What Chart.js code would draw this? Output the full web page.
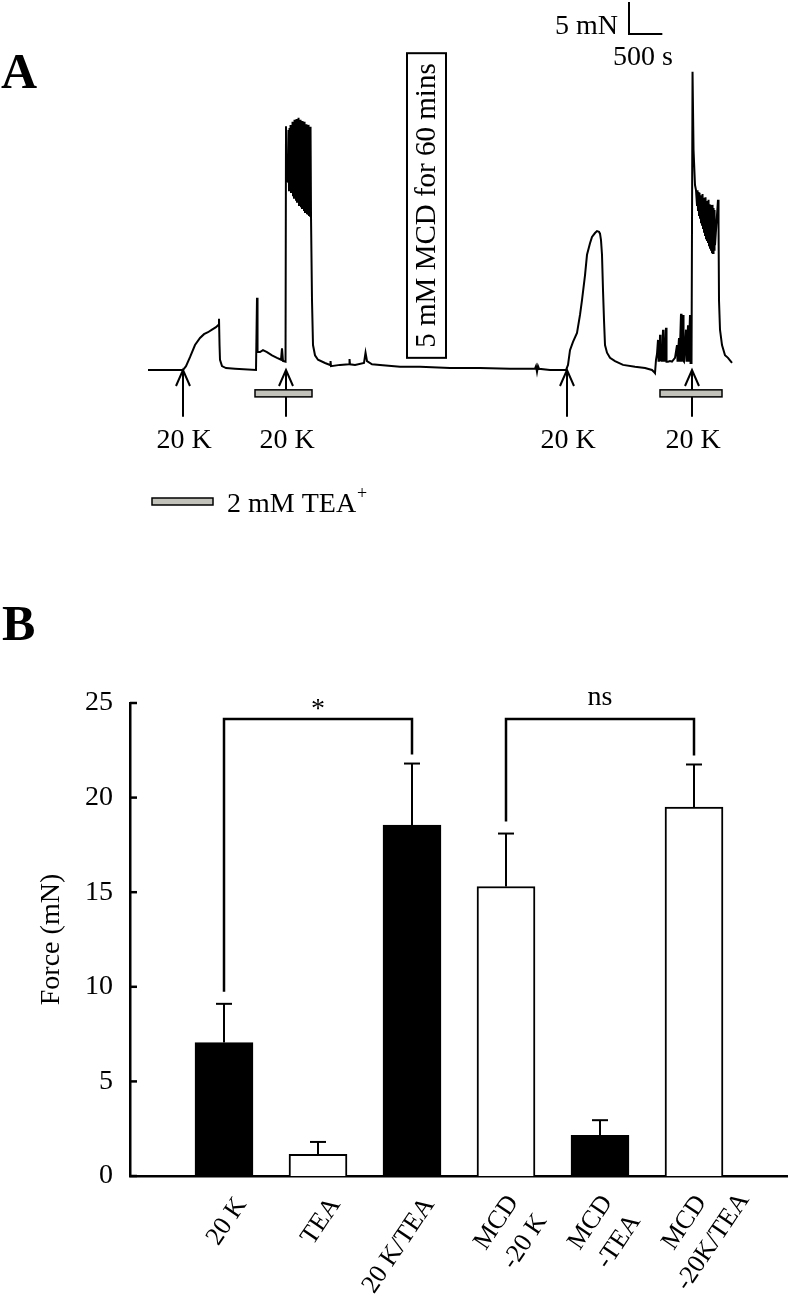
<!DOCTYPE html>
<html><head><meta charset="utf-8">
<script src="https://cdn.jsdelivr.net/npm/chart.js@4.4.1/dist/chart.umd.min.js"></script>
<style>
html,body{margin:0;padding:0;background:#fff;}
#wrap{position:relative;width:788px;height:1300px;overflow:hidden;background:#fff;}
canvas{position:absolute;left:0;display:block;}
#cA{top:0;width:788px;height:560px;}
#cB{top:560px;width:788px;height:740px;}
</style></head><body>
<div id="wrap">
<canvas id="cA" width="788" height="560"></canvas>
<canvas id="cB" width="788" height="740"></canvas>
</div>
<script>
// ---------------- Panel A data: force trace (time in s, force in mN) ----------------
const tracePoints = [
 [0,0],[525,0],[570,0.6],[630,2.0],[705,3.9],[780,5.0],[840,5.6],[900,5.9],[960,6.3],[1020,6.7],[1050,7.0],[1065,8.0],[1073,3.9],[1080,1.6],[1110,0.6],[1170,0.3],[1305,0.2],[1620,0],[1635,11.3],[1643,2.8],[1680,2.8],[1725,3.1],[1785,2.8],[1860,2.3],[1935,1.9],[1995,1.6],[2010,3.4],[2025,1.4],[2063,1.3],[2070,38.1],[2085,29.7],
 [2100,29.4],[2108,37.5],[2115,28.1],[2123,37.8],[2130,28.9],[2138,38.3],[2145,27.8],[2153,37.5],[2160,28.1],[2168,38.8],[2175,27.3],[2183,38.1],[2190,26.9],[2198,39.1],[2205,27.2],[2213,38.4],[2220,26.6],[2228,39.2],[2235,26.3],[2243,38.6],[2250,26.6],[2258,39.4],[2265,25.8],[2273,38.8],[2280,26.1],[2288,39.1],[2295,25.6],[2303,38.4],[2310,25.3],[2318,38.9],[2325,25.8],[2333,38.1],[2340,25.0],[2348,38.8],[2355,24.7],[2363,38.1],[2370,25.0],[2378,38.4],[2385,24.5],[2393,38.0],[2400,24.4],[2408,38.3],[2415,24.2],[2423,37.8],[2430,24.1],[2438,38.0],
 [2445,24.1],[2460,10.9],[2475,3.9],[2505,2.3],[2550,1.6],[2655,1.1],[2730,0.8],[2738,1.4],[2745,0.6],[2880,0.8],[3015,0.9],[3023,1.7],[3030,0.9],[3105,0.8],[3240,1.1],[3263,2.7],[3285,1.4],[3360,0.9],[3480,0.8],[3780,0.5],[4080,0.5],[4530,0.3],[4980,0.3],[5430,0.2],[5805,0.2],[5820,0.6],[5835,-0.3],[5850,0.6],[5865,0.2],[6030,0],[6270,0],
 [6300,0.8],[6330,3.1],[6375,4.4],[6435,5.8],[6480,8.6],[6510,10.9],[6555,14.8],[6585,18.0],[6630,19.8],[6660,20.8],[6705,21.4],[6735,21.7],[6765,21.6],[6780,21.3],[6795,20.3],[6810,18.0],[6825,12.5],[6840,7.8],[6855,3.9],[6885,2.7],[6930,1.9],[7005,1.4],[7125,0.8],[7305,0.5],[7455,0.3],[7560,0],[7590,-0.3],
 [7605,-0.5],[7620,1.6],[7635,2.5],[7650,4.7],[7658,1.3],[7665,3.9],[7673,1.3],[7680,5.5],[7688,1.4],[7695,2.3],[7710,1.3],[7725,6.3],[7733,1.3],[7740,4.7],[7748,1.3],[7770,6.6],[7778,1.3],[7800,1.3],[7830,1.4],[7860,1.3],[7905,1.9],[7935,3.9],[7943,1.3],[7965,5.0],[7973,1.3],[7995,8.8],[8003,1.3],[8025,8.6],[8033,1.4],[8040,1.3],[8070,6.3],[8078,1.3],[8100,7.0],[8108,1.3],[8130,8.6],[8138,1.1],[8153,1.1],
 [8168,46.6],[8183,34.4],[8205,28.9],[8220,28.1],[8235,25.8],[8243,28.1],[8250,25.0],[8258,27.8],[8265,24.2],[8273,27.7],[8280,23.8],[8288,27.3],[8295,23.1],[8303,27.2],[8310,22.7],[8318,27.5],[8325,22.2],[8333,26.9],[8340,21.6],[8348,26.6],[8355,21.1],[8363,27.0],[8370,20.6],[8378,26.4],[8385,20.3],[8393,26.1],[8400,20.0],[8408,26.6],[8415,19.5],[8423,25.9],[8430,19.1],[8438,25.8],[8445,18.8],[8453,25.6],[8460,18.4],[8468,25.8],[8475,18.3],[8483,25.3],[8490,18.8],[8498,25.0],[8505,19.5],[8520,21.9],[8535,24.2],[8550,26.6],[8558,22.7],[8565,10.9],[8580,6.3],[8610,3.9],[8655,2.3],[8700,1.9],[8760,1.1]
];
const kAdditionTimes = [525, 2070, 6285, 8160];      // s, "20 K" additions
const kAdditionLabel = '20 K';
const teaPeriods = [[1605, 2460], [7680, 8610]];     // s, 2 mM TEA+ application
const mcdNote = '5 mM MCD for 60 mins';
const teaLegend = '2 mM TEA';
const scaleBarForce = 5;    // mN
const scaleBarTime = 500;   // s

// ---------------- Panel B data ----------------
const categories = ['20 K', 'TEA', '20 K/TEA', ['MCD', '-20 K'], ['MCD', '-TEA'], ['MCD', '-20K/TEA']];
const forceMean = [7.05, 1.15, 18.55, 15.3, 2.15, 19.5];
const forceSEM  = [2.05, 0.65, 3.25, 2.8, 0.8, 2.25];
const barFills  = ['#000000', '#ffffff', '#000000', '#ffffff', '#000000', '#ffffff'];
const yTicks = [0, 5, 10, 15, 20, 25];
const comparisons = [{a: 0, b: 2, label: '*'}, {a: 3, b: 5, label: 'ns'}];
const bracketLevel = 24.15; // mN

const FONT = '"Liberation Serif", "Times New Roman", Times, serif';

// ================= Panel A =================
const panelAPlugin = {
  id: 'panelA',
  afterDatasetsDraw(chart) {
    const {ctx, scales: {x, y}} = chart;
    const X = v => x.getPixelForValue(v), Y = v => y.getPixelForValue(v);
    ctx.save();
    ctx.strokeStyle = '#000'; ctx.fillStyle = '#000';
    // arrows + labels
    ctx.lineWidth = 2;
    kAdditionTimes.forEach(t => {
      const px = X(t), tip = Y(0), bot = Y(-7.3);
      ctx.beginPath(); ctx.moveTo(px, bot); ctx.lineTo(px, tip); ctx.stroke();
      ctx.beginPath(); ctx.moveTo(px - 7, tip + 16); ctx.lineTo(px, tip); ctx.lineTo(px + 7, tip + 16); ctx.stroke();
      ctx.font = '28px ' + FONT; ctx.textAlign = 'center'; ctx.textBaseline = 'alphabetic';
      ctx.fillText(kAdditionLabel, px + 1, Y(-12.2));
    });
    // TEA bars
    ctx.lineWidth = 1.5;
    teaPeriods.forEach(([a, b]) => {
      const x0 = X(a), x1 = X(b), y0 = Y(-3.1), y1 = Y(-4.2);
      ctx.fillStyle = '#c2c2ba'; ctx.fillRect(x0, y0, x1 - x0, y1 - y0);
      ctx.strokeRect(x0, y0, x1 - x0, y1 - y0);
    });
    // MCD box
    ctx.lineWidth = 2;
    const bx0 = X(3885), bx1 = X(4470), by0 = Y(49.5), by1 = Y(1.9);
    ctx.strokeRect(bx0, by0, bx1 - bx0, by1 - by0);
    ctx.save();
    ctx.translate((bx0 + bx1) / 2, (by0 + by1) / 2);
    ctx.rotate(-Math.PI / 2);
    ctx.fillStyle = '#000'; ctx.font = '29px ' + FONT; ctx.textAlign = 'center'; ctx.textBaseline = 'middle';
    ctx.fillText(mcdNote, 0, 1);
    ctx.restore();
    // scale bar
    const sx = X(7215), sy = Y(52.5);
    ctx.lineWidth = 2;
    ctx.beginPath(); ctx.moveTo(sx, Y(52.5 + scaleBarForce)); ctx.lineTo(sx, sy); ctx.lineTo(X(7215 + scaleBarTime), sy); ctx.stroke();
    ctx.fillStyle = '#000'; ctx.font = '28px ' + FONT; ctx.textBaseline = 'alphabetic';
    ctx.textAlign = 'right'; ctx.fillText(scaleBarForce + ' mN', sx - 11, sy);
    ctx.textAlign = 'left'; ctx.fillText(scaleBarTime + ' s', sx - 16, sy + 31);
    // legend
    ctx.lineWidth = 1.5;
    ctx.fillStyle = '#c2c2ba'; ctx.fillRect(152, 498, 61, 7); ctx.strokeRect(152, 498, 61, 7);
    ctx.fillStyle = '#000'; ctx.font = '28px ' + FONT; ctx.textAlign = 'left';
    ctx.fillText(teaLegend, 227, 512);
    const w = ctx.measureText(teaLegend).width;
    ctx.font = '18px ' + FONT; ctx.fillText('+', 227 + w + 1, 499);
    // panel letter
    ctx.font = 'bold 50px ' + FONT; ctx.fillText('A', 1, 88);
    ctx.restore();
  }
};

new Chart(document.getElementById('cA'), {
  type: 'line',
  data: {
    datasets: [{
      data: tracePoints.map(([t, f]) => ({x: t, y: f})),
      borderColor: '#000', borderWidth: 2, pointRadius: 0, tension: 0, fill: false
    }]
  },
  options: {
    responsive: false, animation: false, events: [],
    layout: {padding: 0},
    plugins: {legend: {display: false}, tooltip: {enabled: false}},
    scales: {
      x: {type: 'linear', display: false, min: -2220, max: 9600},
      y: {type: 'linear', display: false, min: -29.6875, max: 57.8125}
    }
  },
  plugins: [panelAPlugin]
});

// ================= Panel B =================
const xLabelAngle = 56;
const panelBPlugin = {
  id: 'panelB',
  afterDatasetsDraw(chart) {
    const {ctx, scales: {x, y}, chartArea} = chart;
    const meta = chart.getDatasetMeta(0);
    const line = (a, b, c, d) => { ctx.beginPath(); ctx.moveTo(a, b); ctx.lineTo(c, d); ctx.stroke(); };
    ctx.save();
    ctx.strokeStyle = '#000'; ctx.fillStyle = '#000';
    // inward y ticks
    ctx.lineWidth = 2.5;
    yTicks.forEach(v => { const py = y.getPixelForValue(v); line(chartArea.left, py, chartArea.left + 7, py); });
    // error bars (upper)
    ctx.lineWidth = 2;
    const errTopPx = [];
    forceMean.forEach((m, i) => {
      const px = meta.data[i + 1].x;
      const top = y.getPixelForValue(m + forceSEM[i]);
      const base = y.getPixelForValue(m);
      line(px, base, px, top);
      line(px - 8, top, px + 8, top);
      errTopPx[i] = top;
    });
    // significance brackets
    ctx.lineWidth = 2.5;
    comparisons.forEach(c => {
      const xa = meta.data[c.a + 1].x, xb = meta.data[c.b + 1].x;
      const by = y.getPixelForValue(bracketLevel);
      ctx.beginPath();
      ctx.moveTo(xa, errTopPx[c.a] - 12); ctx.lineTo(xa, by); ctx.lineTo(xb, by); ctx.lineTo(xb, errTopPx[c.b] - 9);
      ctx.stroke();
      ctx.font = '28px ' + FONT; ctx.textAlign = 'center'; ctx.textBaseline = 'alphabetic';
      ctx.fillText(c.label, (xa + xb) / 2, by - (c.label === '*' ? 2 : 14));
    });
    // x category labels (rotated)
    const th = xLabelAngle * Math.PI / 180;
    ctx.font = '26px ' + FONT;
    const axisY = chartArea.bottom;
    chart.data.labels.forEach((lab, i) => {
      if (!lab) return;
      const px = x.getPixelForValue(i);
      const lines = Array.isArray(lab) ? lab : [lab];
      ctx.save();
      if (lines.length === 1) {
        ctx.translate(px + 8, axisY + 18);
        ctx.rotate(-th);
        ctx.textAlign = 'right';
        ctx.fillText(lines[0], 0, 18);
      } else {
        ctx.translate(px + 3, axisY + 55);
        ctx.rotate(-th);
        ctx.textAlign = 'center';
        lines.forEach((ln, k) => ctx.fillText(ln, 0, (k - (lines.length - 1) / 2) * 34 + 9));
      }
      ctx.restore();
    });
    // panel letter
    ctx.font = 'bold 50px ' + FONT; ctx.textAlign = 'left';
    ctx.fillText('B', 2, 80);
    ctx.restore();
  }
};

new Chart(document.getElementById('cB'), {
  type: 'bar',
  data: {
    labels: [''].concat(categories, ['']),
    datasets: [{
      data: [null].concat(forceMean, [null]),
      backgroundColor: ['#ffffff'].concat(barFills, ['#ffffff']),
      borderColor: '#000', borderWidth: 2, barThickness: 58
    }]
  },
  options: {
    responsive: false, animation: false, events: [],
    layout: {padding: {top: 143, left: 0, right: 0, bottom: 0}},
    plugins: {legend: {display: false}, tooltip: {enabled: false}},
    scales: {
      x: {
        type: 'category', offset: false,
        grid: {display: false},
        border: {display: true, color: '#000', width: 2.5},
        ticks: {display: false},
        afterFit(s) { s.height = 124; }
      },
      y: {
        min: 0, max: 25,
        grid: {display: false},
        border: {display: true, color: '#000', width: 2.5},
        ticks: {stepSize: 5, color: '#000', padding: 9, font: {family: FONT, size: 28}},
        title: {display: true, text: 'Force (mN)', color: '#000', font: {family: FONT, size: 28}, padding: {top: 35, bottom: 0}},
        afterFit(s) { s.width = 130; }
      }
    }
  },
  plugins: [panelBPlugin]
});
</script>
</body></html>
